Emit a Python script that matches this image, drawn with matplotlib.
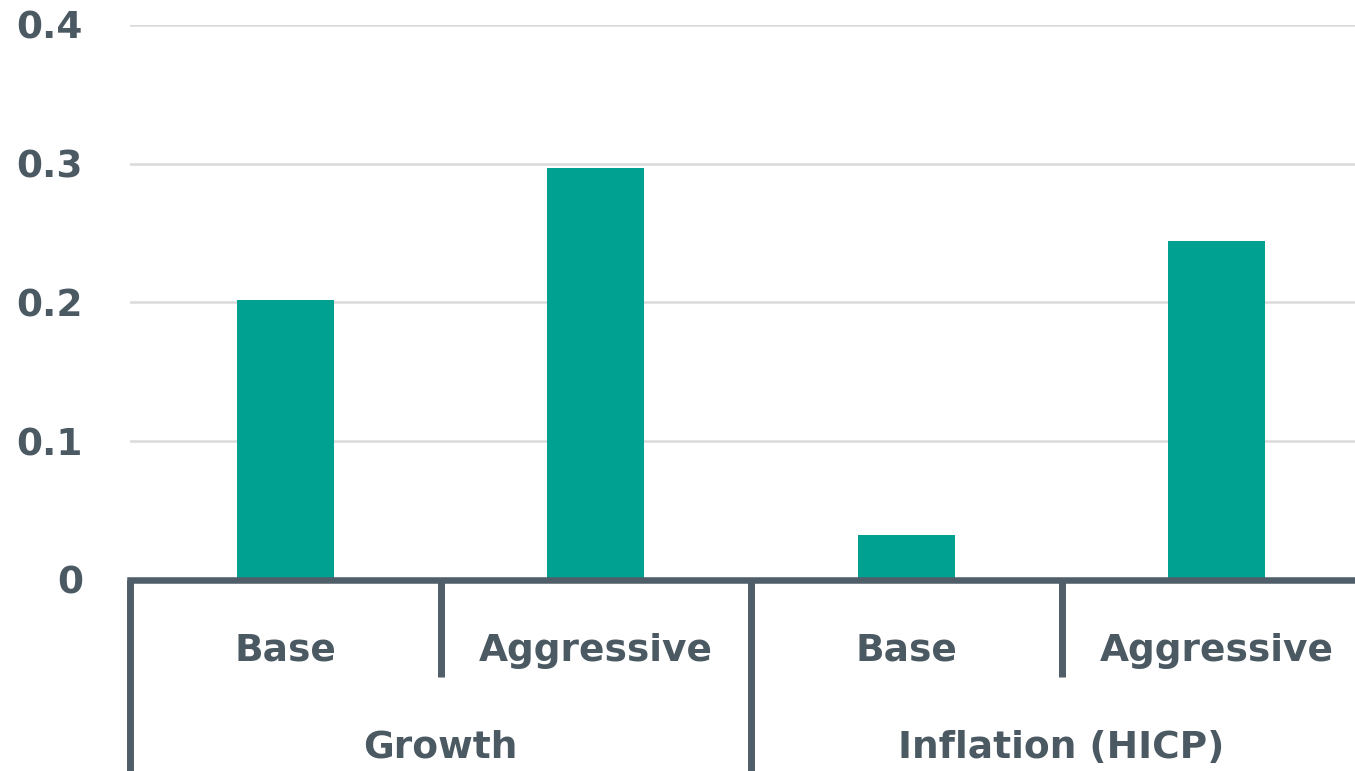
import matplotlib
matplotlib.use("Agg")
import matplotlib.pyplot as plt
import matplotlib.transforms as mtransforms

groups = ["Growth", "Inflation (HICP)"]
scenarios = ["Base", "Aggressive"]
growth_values = [0.202, 0.297]
inflation_values = [0.032, 0.244]
y_ticks = [0, 0.1, 0.2, 0.3, 0.4]
y_tick_labels = ["0", "0.1", "0.2", "0.3", "0.4"]

values = growth_values + inflation_values
labels = scenarios + scenarios

plt.rcParams['font.family'] = ['DejaVu Sans']

W, H = 1355, 771
fig = plt.figure(figsize=(W / 100, H / 100), dpi=100)
left_px, zero_px, top_px = 130, 579.7, 24.9
ax = fig.add_axes([left_px / W, (H - zero_px) / H, 1 - left_px / W, (zero_px - top_px) / H])

bar_color = "#00a190"
axis_color = "#4f5e68"
text_color = "#4b5963"
fs = 27

x = list(range(len(values)))
ax.bar(x, values, width=0.312, color=bar_color, zorder=3)

slot_px = 310.5
ax.set_xlim(-0.5, -0.5 + (W - left_px) / slot_px)
ax.set_ylim(0, 0.4)

ax.set_yticks(y_ticks)
ax.set_yticklabels(y_tick_labels, fontsize=fs, fontweight='bold', color=text_color)
ax.tick_params(axis='y', length=0, pad=34)
ax.set_xticks([])
ax.yaxis.grid(True, color="#dadada", linewidth=1.8, zorder=0)
ax.set_axisbelow(True)

for s in ["top", "right", "left"]:
    ax.spines[s].set_visible(False)
ax.spines["bottom"].set_color(axis_color)
ax.spines["bottom"].set_linewidth(4.7)
ax.spines["bottom"].set_zorder(4)

trans = mtransforms.blended_transform_factory(ax.transData, ax.transAxes)
row1 = -0.1754
bottom = -0.45

# dividers
for i in range(len(values) + 1):
    xd = i - 0.5
    end = bottom if i % 2 == 0 else row1
    ax.plot([xd, xd], [0, end], transform=trans, color=axis_color,
            linewidth=5, clip_on=False, solid_capstyle='butt')

# scenario labels
for xi, lab in zip(x, labels):
    ax.text(xi, -0.128, lab, transform=trans, ha='center', va='center',
            fontsize=fs, fontweight='bold', color=text_color)

# group labels
for gi, g in enumerate(groups):
    ax.text(gi * 2 + 0.5, -0.303, g, transform=trans, ha='center', va='center',
            fontsize=fs, fontweight='bold', color=text_color)

fig.savefig("out.png", dpi=100)
